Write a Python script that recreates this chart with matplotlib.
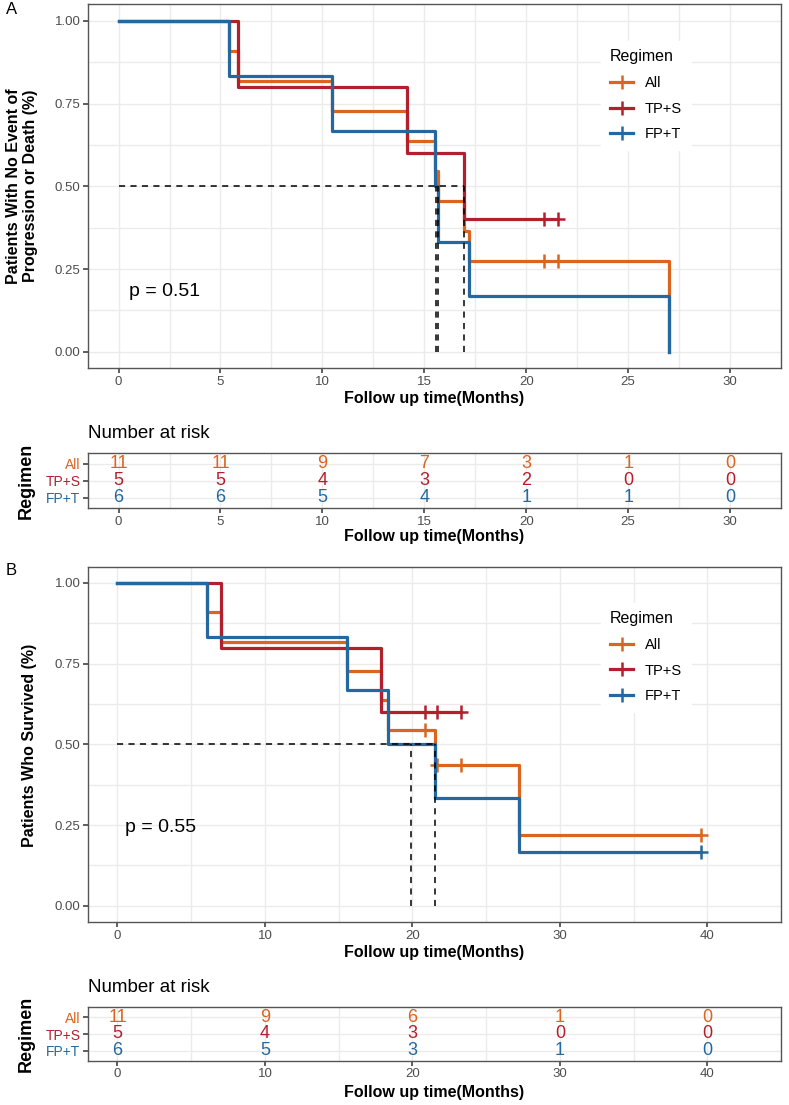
import numpy as np
import matplotlib.pyplot as plt
from matplotlib.lines import Line2D

plt.rcParams['font.family'] = ['Liberation Sans', 'DejaVu Sans']

groups = ["All", "TP+S", "FP+T"]
colors = ["#DA6420", "#B21F2D", "#24689F"]

# panel A: progression-free survival (step times, survival after each step)
pfs_all_t = [0, 5.43, 5.86, 10.45, 14.15, 15.5, 15.65, 16.93, 17.21, 27.0]
pfs_all_s = [1.0, 0.909, 0.818, 0.727, 0.636, 0.545, 0.455, 0.364, 0.273, 0.0]
pfs_all_end = 27.0
pfs_all_cens = [20.85, 21.55]
pfs_tps_t = [0, 5.86, 14.15, 16.93]
pfs_tps_s = [1.0, 0.8, 0.6, 0.4]
pfs_tps_end = 21.55
pfs_tps_cens = [20.85, 21.55]
pfs_fpt_t = [0, 5.43, 10.45, 15.5, 15.65, 17.21, 27.0]
pfs_fpt_s = [1.0, 0.833, 0.667, 0.5, 0.333, 0.167, 0.0]
pfs_fpt_end = 27.0
pfs_fpt_cens = []
pfs_medians = [15.65, 16.93, 15.58]
pfs_pval = "p = 0.51"
pfs_risk_times = [0, 5, 10, 15, 20, 25, 30]
pfs_risk_all = [11, 11, 9, 7, 3, 1, 0]
pfs_risk_tps = [5, 5, 4, 3, 2, 0, 0]
pfs_risk_fpt = [6, 6, 5, 4, 1, 1, 0]

# panel B: overall survival
os_all_t = [0, 6.06, 7.01, 15.58, 17.9, 18.34, 21.54, 27.23]
os_all_s = [1.0, 0.909, 0.818, 0.727, 0.636, 0.545, 0.436, 0.218]
os_all_end = 39.6
os_all_cens = [20.85, 21.65, 23.29, 39.6]
os_tps_t = [0, 7.01, 17.9]
os_tps_s = [1.0, 0.8, 0.6]
os_tps_end = 23.29
os_tps_cens = [20.85, 21.65, 23.29]
os_fpt_t = [0, 6.06, 15.58, 18.34, 21.54, 27.23]
os_fpt_s = [1.0, 0.833, 0.667, 0.5, 0.333, 0.167]
os_fpt_end = 39.6
os_fpt_cens = [39.6]
os_medians = [21.54, 19.94]
os_pval = "p = 0.55"
os_risk_times = [0, 10, 20, 30, 40]
os_risk_all = [11, 9, 6, 1, 0]
os_risk_tps = [5, 4, 3, 0, 0]
os_risk_fpt = [6, 5, 3, 1, 0]

W, H = 789, 1105
fig = plt.figure(figsize=(W / 100, H / 100), dpi=100)


def add_box(l, t, r, b):
    return fig.add_axes([l / W, 1 - b / H, (r - l) / W, (b - t) / H])


def style(ax, xmax, step):
    ax.set_facecolor("white")
    ax.set_xlim(-0.05 * xmax, 1.05 * xmax)
    ax.set_xticks(np.arange(0, xmax + 0.1, step))
    ax.set_xticks(np.arange(step / 2, xmax + step, step), minor=True)
    ax.grid(True, which="both", color="#EBEBEB", lw=1.0)
    ax.set_axisbelow(True)
    for sp in ax.spines.values():
        sp.set_color("#555555")
        sp.set_linewidth(1.0)
    ax.tick_params(which="major", length=3.5, width=1.1, color="#333333",
                   labelsize=9.5, labelcolor="#4D4D4D", pad=2)
    ax.tick_params(which="minor", length=0)


def km_panel(ax, curves, medians, pval, pval_y, xmax, step, legend_at):
    style(ax, xmax, step)
    ax.set_ylim(-0.05, 1.05)
    ax.set_yticks([0, 0.25, 0.5, 0.75, 1.0])
    ax.set_yticklabels(["0.00", "0.25", "0.50", "0.75", "1.00"])
    ax.set_yticks([0.125, 0.375, 0.625, 0.875], minor=True)
    for (t, s, end, cens), col in zip(curves, colors):
        ax.step(t + [end], s + [s[-1]], where="post", color=col, lw=2.3)
        if cens:
            cy = [s[np.searchsorted(t, c, side="right") - 1] for c in cens]
            ax.plot(cens, cy, "+", color=col, ms=10, mew=1.8)
    ax.plot([0, max(medians)], [0.5, 0.5], color="black", lw=1.1, ls=(0, (4, 3.5)))
    for m in medians:
        ax.plot([m, m], [0, 0.5], color="black", lw=1.1, ls=(0, (4, 3.5)))
    ax.text(0.5, pval_y, pval, fontsize=14, va="center", ha="left")
    handles = [Line2D([], [], color=c, lw=2.3, marker="+", ms=10, mew=1.8) for c in colors]
    leg = ax.legend(handles, groups, title="Regimen", loc="upper left",
                    bbox_to_anchor=legend_at, frameon=True, fontsize=10.5,
                    title_fontsize=11.5, handlelength=1.6, labelspacing=0.8,
                    borderpad=0.6, handletextpad=0.8)
    leg.get_frame().set_edgecolor("white")
    leg.get_frame().set_facecolor("white")
    leg.get_frame().set_alpha(1)
    leg._legend_box.align = "left"


def risk_table(ax, times, rows, xmax, step):
    style(ax, xmax, step)
    ax.set_ylim(0.4, 3.6)
    ax.set_yticks([3, 2, 1])
    ax.set_yticklabels(groups, fontsize=10)
    for lab, col in zip(ax.get_yticklabels(), colors):
        lab.set_color(col)
    ax.grid(True, axis="y", which="major", color="#EBEBEB", lw=1.0)
    for vals, ypos, col in zip(rows, [3, 2, 1], colors):
        for t, v in zip(times, vals):
            ax.text(t, ypos, str(v), color=col, fontsize=13, ha="center", va="center")


# ---- panel A ----
axA = add_box(88, 4.3, 781, 368.3)
km_panel(axA,
         [(pfs_all_t, pfs_all_s, pfs_all_end, pfs_all_cens),
          (pfs_tps_t, pfs_tps_s, pfs_tps_end, pfs_tps_cens),
          (pfs_fpt_t, pfs_fpt_s, pfs_fpt_end, pfs_fpt_cens)],
         pfs_medians, pfs_pval, 0.182, 30, 5, (0.73, 0.92))
fig.text(22 / W, 1 - 186 / H, "Patients With No Event of\nProgression or Death (%)",
         rotation=90, ha="center", va="center", fontsize=11.5, fontweight="bold",
         multialignment="center")
fig.text(434.5 / W, 1 - 399 / H, "Follow up time(Months)", ha="center", va="center",
         fontsize=11.5, fontweight="bold")
fig.text(6 / W, 1 - 10 / H, "A", fontsize=12, va="center")

tA = add_box(88, 453.3, 781, 508.3)
risk_table(tA, pfs_risk_times, [pfs_risk_all, pfs_risk_tps, pfs_risk_fpt], 30, 5)
fig.text(88 / W, 1 - 434 / H, "Number at risk", fontsize=13.5, va="center")
fig.text(26 / W, 1 - 481 / H, "Regimen", rotation=90, ha="center", va="center",
         fontsize=13, fontweight="bold")
fig.text(434.5 / W, 1 - 537 / H, "Follow up time(Months)", ha="center", va="center",
         fontsize=11.5, fontweight="bold")

# ---- panel B ----
axB = add_box(88, 566.8, 781, 922)
km_panel(axB,
         [(os_all_t, os_all_s, os_all_end, os_all_cens),
          (os_tps_t, os_tps_s, os_tps_end, os_tps_cens),
          (os_fpt_t, os_fpt_s, os_fpt_end, os_fpt_cens)],
         os_medians, os_pval, 0.243, 40, 10, (0.73, 0.92))
fig.text(30 / W, 1 - 745 / H, "Patients Who Survived (%)", rotation=90, ha="center",
         va="center", fontsize=11.5, fontweight="bold")
fig.text(434.5 / W, 1 - 952 / H, "Follow up time(Months)", ha="center", va="center",
         fontsize=11.5, fontweight="bold")
fig.text(6 / W, 1 - 570 / H, "B", fontsize=12, va="center")

tB = add_box(88, 1007.3, 781, 1060.7)
risk_table(tB, os_risk_times, [os_risk_all, os_risk_tps, os_risk_fpt], 40, 10)
fig.text(88 / W, 1 - 987 / H, "Number at risk", fontsize=13.5, va="center")
fig.text(26 / W, 1 - 1034 / H, "Regimen", rotation=90, ha="center", va="center",
         fontsize=13, fontweight="bold")
fig.text(434.5 / W, 1 - 1092 / H, "Follow up time(Months)", ha="center", va="center",
         fontsize=11.5, fontweight="bold")

fig.savefig("out.png", dpi=100, facecolor="white")
